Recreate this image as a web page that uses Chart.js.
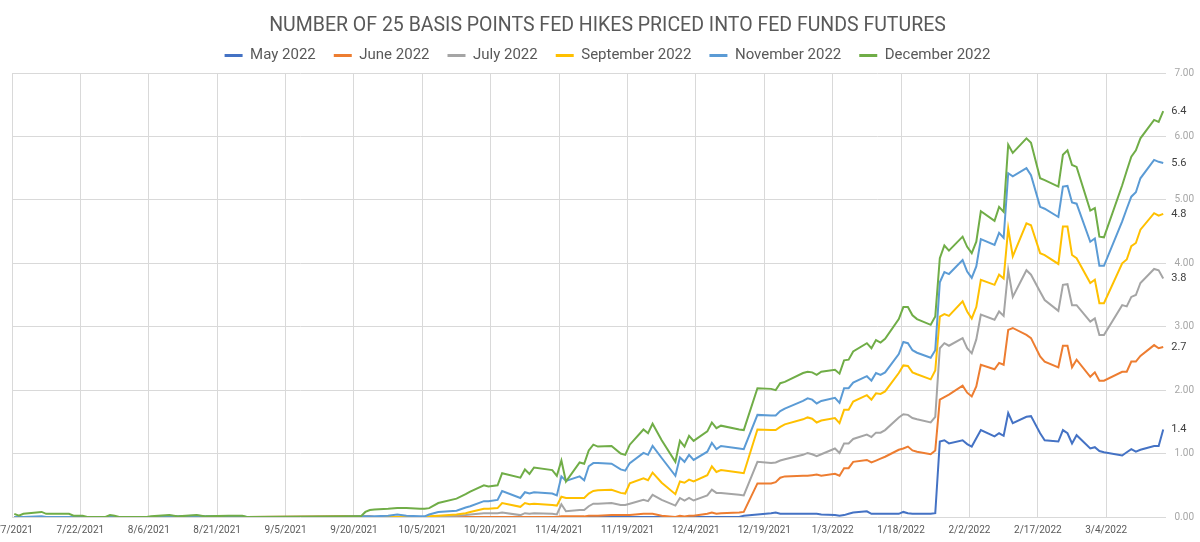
<!DOCTYPE html>
<html>
<head>
<meta charset="utf-8">
<script src="https://cdn.jsdelivr.net/npm/chart.js@4.4.1/dist/chart.umd.min.js"></script>
<style>
  html, body { margin: 0; padding: 0; background: #ffffff; }
  canvas { display: block; }
</style>
</head>
<body>
<canvas id="c" width="1200" height="542"></canvas>
<script>
// ---------------- DATA ----------------
const chartTitle = 'NUMBER OF 25 BASIS POINTS FED HIKES PRICED INTO FED FUNDS FUTURES';

const seriesNames = ['May 2022', 'June 2022', 'July 2022', 'September 2022', 'November 2022', 'December 2022'];

const xTickLabels = ['7/7/2021', '7/22/2021', '8/6/2021', '8/21/2021', '9/5/2021', '9/20/2021', '10/5/2021',
  '10/20/2021', '11/4/2021', '11/19/2021', '12/4/2021', '12/19/2021', '1/3/2022', '1/18/2022', '2/2/2022',
  '2/17/2022', '3/4/2022'];
const xAxisFirst = '7/7/2021';
const xAxisLast = '3/16/2022';
const yTickValues = [0, 1, 2, 3, 4, 5, 6, 7];

const dates = [
  // Jul - Aug 2021
  '7/7/2021', '7/8/2021', '7/9/2021', '7/13/2021', '7/14/2021', '7/19/2021', '7/20/2021', '7/22/2021',
  '7/23/2021', '7/27/2021', '7/28/2021', '7/29/2021', '7/30/2021', '8/5/2021', '8/6/2021', '8/10/2021',
  '8/12/2021', '8/16/2021', '8/18/2021', '8/23/2021', '8/26/2021', '8/27/2021',
  // Sep - Oct 2021
  '9/17/2021', '9/21/2021', '9/22/2021', '9/23/2021', '9/24/2021', '9/27/2021', '9/29/2021', '10/1/2021',
  '10/4/2021', '10/5/2021', '10/6/2021', '10/8/2021', '10/12/2021', '10/14/2021', '10/15/2021', '10/18/2021',
  '10/19/2021', '10/21/2021', '10/22/2021', '10/26/2021', '10/27/2021', '10/28/2021', '10/29/2021',
  // Nov - mid Dec 2021
  '11/2/2021', '11/3/2021', '11/4/2021', '11/5/2021', '11/8/2021', '11/9/2021', '11/10/2021', '11/11/2021',
  '11/12/2021', '11/15/2021', '11/17/2021', '11/18/2021', '11/19/2021', '11/22/2021', '11/23/2021', '11/24/2021',
  '11/26/2021', '11/29/2021', '11/30/2021', '12/1/2021', '12/2/2021', '12/3/2021', '12/6/2021', '12/7/2021',
  '12/8/2021', '12/9/2021', '12/13/2021', '12/14/2021',
  // mid Dec 2021 - Jan 2022
  '12/17/2021', '12/20/2021', '12/21/2021', '12/22/2021', '12/23/2021', '12/27/2021', '12/28/2021', '12/29/2021',
  '12/30/2021', '12/31/2021', '1/3/2022', '1/4/2022', '1/5/2022', '1/6/2022', '1/7/2022', '1/10/2022',
  '1/11/2022', '1/12/2022', '1/13/2022', '1/14/2022', '1/17/2022', '1/18/2022', '1/19/2022', '1/20/2022',
  '1/21/2022', '1/24/2022', '1/25/2022',
  // late Jan - Mar 2022
  '1/26/2022', '1/27/2022', '1/28/2022', '1/31/2022', '2/1/2022', '2/2/2022', '2/3/2022', '2/4/2022',
  '2/7/2022', '2/8/2022', '2/9/2022', '2/10/2022', '2/11/2022', '2/14/2022', '2/15/2022', '2/17/2022',
  '2/18/2022', '2/21/2022', '2/22/2022', '2/23/2022', '2/24/2022', '2/25/2022', '2/28/2022', '3/1/2022',
  '3/2/2022', '3/3/2022', '3/7/2022', '3/8/2022', '3/9/2022', '3/10/2022', '3/11/2022', '3/14/2022',
  '3/15/2022', '3/16/2022'
];

const may2022 = [
  0,0,0,0,0,0,0,0,0,0,0,0,0,0,0,0,0,0,0,0,0,0,
  0,0,0,0,0,0,0,0,0,0,0,0,0,0,0,0,0,0,0,0,0,0,0,
  0,0,0,0,0,0,0,0,0,0,0,0,0,0,0,0,0,0,0,0,0,0,0,0,0,0,0,0.02,
  0.04,0.06,0.07,0.05,0.05,0.05,0.05,0.05,0.05,0.04,0.03,0.02,0.03,0.05,0.07,0.09,0.05,0.05,0.05,0.05,0.05,0.08,0.06,0.05,0.05,0.05,0.06,
  1.19,1.21,1.16,1.21,1.15,1.11,1.24,1.37,1.27,1.32,1.28,1.64,1.48,1.58,1.59,1.32,1.21,1.19,1.37,1.32,1.16,1.29,1.08,1.10,1.04,1.02,0.97,1.02,1.07,1.03,1.06,1.12,1.12,1.38
];
const june2022 = [
  0,0,0,0,0,0,0,0,0,0,0,0,0,0,0,0,0,0,0,0,0,0,
  0.01,0.01,0.01,0.01,0,0,0,0,0,0,0,0,0,0,0,0,0,0,0,0,0,0,0,
  0,0,0.01,0.01,0.01,0.01,0.02,0.02,0.02,0.03,0.03,0.03,0.03,0.05,0.05,0.05,0.02,0.00,0.02,0.01,0.02,0.02,0.05,0.07,0.05,0.06,0.07,0.08,
  0.53,0.53,0.55,0.62,0.64,0.65,0.65,0.66,0.67,0.65,0.68,0.65,0.77,0.77,0.87,0.90,0.86,0.89,0.92,0.95,1.06,1.08,1.11,1.05,1.03,0.99,1.05,
  1.85,1.89,1.93,2.07,1.96,1.90,2.06,2.40,2.33,2.43,2.40,2.95,2.98,2.87,2.82,2.53,2.45,2.36,2.70,2.70,2.36,2.48,2.21,2.28,2.15,2.15,2.29,2.29,2.45,2.45,2.54,2.71,2.66,2.68
];
const july2022 = [
  0,0,0,0,0,0,0,0,0,0,0,0,0,0,0,0,0,0,0,0,0,0,
  0,0,0,0,0,0,0,0,0,0,0,0.01,0.02,0.03,0.04,0.06,0.06,0.06,0.07,0.03,0.06,0.05,0.06,
  0.05,0.04,0.20,0.09,0.11,0.11,0.17,0.21,0.21,0.22,0.19,0.19,0.21,0.27,0.25,0.35,0.27,0.18,0.30,0.26,0.30,0.26,0.34,0.43,0.38,0.38,0.35,0.34,
  0.87,0.85,0.86,0.89,0.91,0.98,1.01,0.99,0.96,0.99,1.08,1.01,1.16,1.16,1.23,1.30,1.26,1.33,1.33,1.37,1.57,1.62,1.61,1.56,1.54,1.49,1.58,
  2.66,2.74,2.70,2.82,2.66,2.58,2.80,3.19,3.11,3.24,3.17,3.89,3.47,3.89,3.82,3.55,3.42,3.25,3.66,3.67,3.34,3.34,3.08,3.13,2.87,2.87,3.34,3.32,3.47,3.50,3.69,3.91,3.89,3.76
];
const september2022 = [
  0,0,0,0,0,0,0,0,0,0,0,0,0,0,0,0,0,0,0,0,0,0,
  0,0,0,0,0,0,0,0,0,0,0.01,0.02,0.04,0.06,0.08,0.13,0.13,0.14,0.22,0.16,0.22,0.20,0.21,
  0.19,0.18,0.32,0.30,0.30,0.30,0.37,0.41,0.42,0.43,0.38,0.37,0.53,0.61,0.58,0.70,0.54,0.36,0.56,0.54,0.59,0.56,0.66,0.80,0.71,0.74,0.70,0.69,
  1.38,1.37,1.37,1.42,1.46,1.54,1.57,1.55,1.49,1.52,1.56,1.48,1.69,1.69,1.82,1.92,1.85,1.95,1.94,1.98,2.27,2.39,2.38,2.28,2.25,2.17,2.31,
  3.16,3.20,3.17,3.40,3.24,3.13,3.31,3.74,3.66,3.82,3.76,4.55,4.11,4.63,4.60,4.16,4.13,3.99,4.58,4.58,4.13,4.08,3.69,3.74,3.37,3.37,4.00,4.06,4.27,4.32,4.53,4.79,4.75,4.78
];
const november2022 = [
  0,0,0,0.01,0,0,0,0,0,0,0,0,0,0,0,0.02,0.01,0.02,0.01,0.01,0.01,0,
  0,0.01,0.01,0.01,0.01,0.02,0.04,0.02,0.01,0.01,0.04,0.08,0.10,0.15,0.17,0.25,0.25,0.27,0.41,0.30,0.39,0.37,0.39,
  0.37,0.34,0.64,0.57,0.64,0.58,0.80,0.85,0.85,0.84,0.75,0.73,0.85,1.01,0.98,1.12,0.93,0.65,0.94,0.87,0.98,0.90,1.03,1.17,1.07,1.12,1.08,1.07,
  1.61,1.60,1.60,1.67,1.71,1.83,1.87,1.85,1.79,1.83,1.88,1.80,2.03,2.03,2.12,2.22,2.15,2.27,2.24,2.28,2.57,2.76,2.74,2.63,2.59,2.51,2.63,
  3.70,3.86,3.83,4.05,3.87,3.77,3.95,4.38,4.29,4.48,4.40,5.42,5.37,5.50,5.39,4.89,4.86,4.73,5.21,5.22,4.96,4.94,4.34,4.39,3.96,3.96,4.66,4.86,5.05,5.12,5.34,5.63,5.60,5.58
];
const december2022 = [
  0.05,0.02,0.05,0.08,0.05,0.05,0.02,0.02,0.00,0.00,0.03,0.02,0.00,0.00,0.01,0.03,0.01,0.03,0.01,0.02,0.02,0.00,
  0.01,0.01,0.08,0.11,0.12,0.13,0.14,0.14,0.13,0.13,0.14,0.22,0.29,0.36,0.40,0.50,0.48,0.50,0.69,0.62,0.75,0.68,0.78,
  0.74,0.65,0.89,0.56,0.86,0.84,1.05,1.14,1.11,1.12,1.00,0.98,1.14,1.38,1.32,1.47,1.21,0.87,1.20,1.11,1.28,1.20,1.35,1.49,1.40,1.44,1.38,1.37,
  2.03,2.02,2.00,2.11,2.13,2.27,2.29,2.28,2.24,2.29,2.32,2.26,2.47,2.48,2.61,2.74,2.66,2.79,2.75,2.81,3.12,3.31,3.31,3.18,3.12,3.03,3.16,
  4.08,4.28,4.20,4.42,4.26,4.16,4.34,4.82,4.67,4.89,4.81,5.87,5.74,5.97,5.90,5.34,5.31,5.21,5.71,5.78,5.55,5.52,4.83,4.87,4.42,4.41,5.23,5.46,5.68,5.78,5.97,6.26,6.23,6.40
];

const seriesValues = [may2022, june2022, july2022, september2022, november2022, december2022];
const seriesColors = ['#4472C4', '#ED7D31', '#A5A5A5', '#FFC000', '#5B9BD5', '#70AD47'];

// ---------------- HELPERS ----------------
function dayIndex(str) {
  const [m, d, y] = str.split('/').map(Number);
  const [m0, d0, y0] = xAxisFirst.split('/').map(Number);
  return Math.round((Date.UTC(y, m - 1, d) - Date.UTC(y0, m0 - 1, d0)) / 86400000);
}

const endLabels = {
  id: 'endLabels',
  afterDatasetsDraw(chart) {
    const ctx = chart.ctx;
    ctx.save();
    ctx.font = '11px Roboto, "DejaVu Sans", sans-serif';
    ctx.fillStyle = '#404040';
    ctx.textAlign = 'left';
    ctx.textBaseline = 'middle';
    chart.data.datasets.forEach((ds, i) => {
      const meta = chart.getDatasetMeta(i);
      const pt = meta.data[meta.data.length - 1];
      const v = ds.data[ds.data.length - 1].y;
      ctx.fillText(v.toFixed(1), pt.x + 8, pt.y);
    });
    ctx.restore();
  }
};

const datasets = seriesNames.map((name, i) => ({
  label: name,
  data: dates.map((d, j) => ({ x: dayIndex(d) + 0.5, y: seriesValues[i][j] })),
  borderColor: seriesColors[i],
  backgroundColor: seriesColors[i],
  borderWidth: 2,
  pointRadius: 0,
  pointHoverRadius: 0,
  tension: 0,
  order: seriesNames.length - i
}));

new Chart(document.getElementById('c'), {
  type: 'line',
  data: { datasets },
  options: {
    responsive: false,
    animation: false,
    devicePixelRatio: 1,
    layout: { padding: { left: 12, right: -3, top: 7, bottom: -1 } },
    plugins: {
      title: {
        display: true,
        text: chartTitle,
        color: '#595959',
        font: { family: 'Roboto, "DejaVu Sans", sans-serif', size: 19.5, weight: 'normal' },
        padding: { top: 1, bottom: -8 }
      },
      legend: {
        display: true,
        labels: {
          boxWidth: 18,
          boxHeight: 3,
          color: '#595959',
          font: { family: 'Roboto, "DejaVu Sans", sans-serif', size: 15 },
          padding: 18,
          sort: (a, b) => a.datasetIndex - b.datasetIndex,
          generateLabels: (chart) => Chart.defaults.plugins.legend.labels.generateLabels(chart)
            .map(l => Object.assign(l, { lineWidth: 0 }))
        }
      },
      tooltip: { enabled: false }
    },
    scales: {
      x: {
        type: 'linear',
        min: dayIndex(xAxisFirst),
        max: dayIndex(xAxisLast) + 1,
        afterBuildTicks: (axis) => { axis.ticks = xTickLabels.map(l => ({ value: dayIndex(l) })); },
        afterFit: (axis) => { axis.paddingLeft = 0; axis.paddingRight = 0; },
        grid: { color: '#d9d9d9', lineWidth: 1, drawTicks: false },
        border: { display: false },
        ticks: {
          color: '#595959',
          font: { family: 'Roboto, "DejaVu Sans", sans-serif', size: 10 },
          padding: 7,
          maxRotation: 0,
          autoSkip: false,
          callback: (value, index) => xTickLabels[index]
        }
      },
      y: {
        position: 'right',
        min: yTickValues[0],
        max: yTickValues[yTickValues.length - 1],
        afterBuildTicks: (axis) => { axis.ticks = yTickValues.map(v => ({ value: v })); },
        afterFit: (axis) => { axis.paddingTop = 73; },
        grid: { color: '#d9d9d9', lineWidth: 1, drawTicks: false },
        border: { display: false },
        ticks: {
          color: '#a6a6a6',
          font: { family: 'Roboto, "DejaVu Sans", sans-serif', size: 10 },
          padding: 9,
          callback: (v) => Number(v).toFixed(2)
        }
      }
    }
  },
  plugins: [endLabels]
});
</script>
</body>
</html>
